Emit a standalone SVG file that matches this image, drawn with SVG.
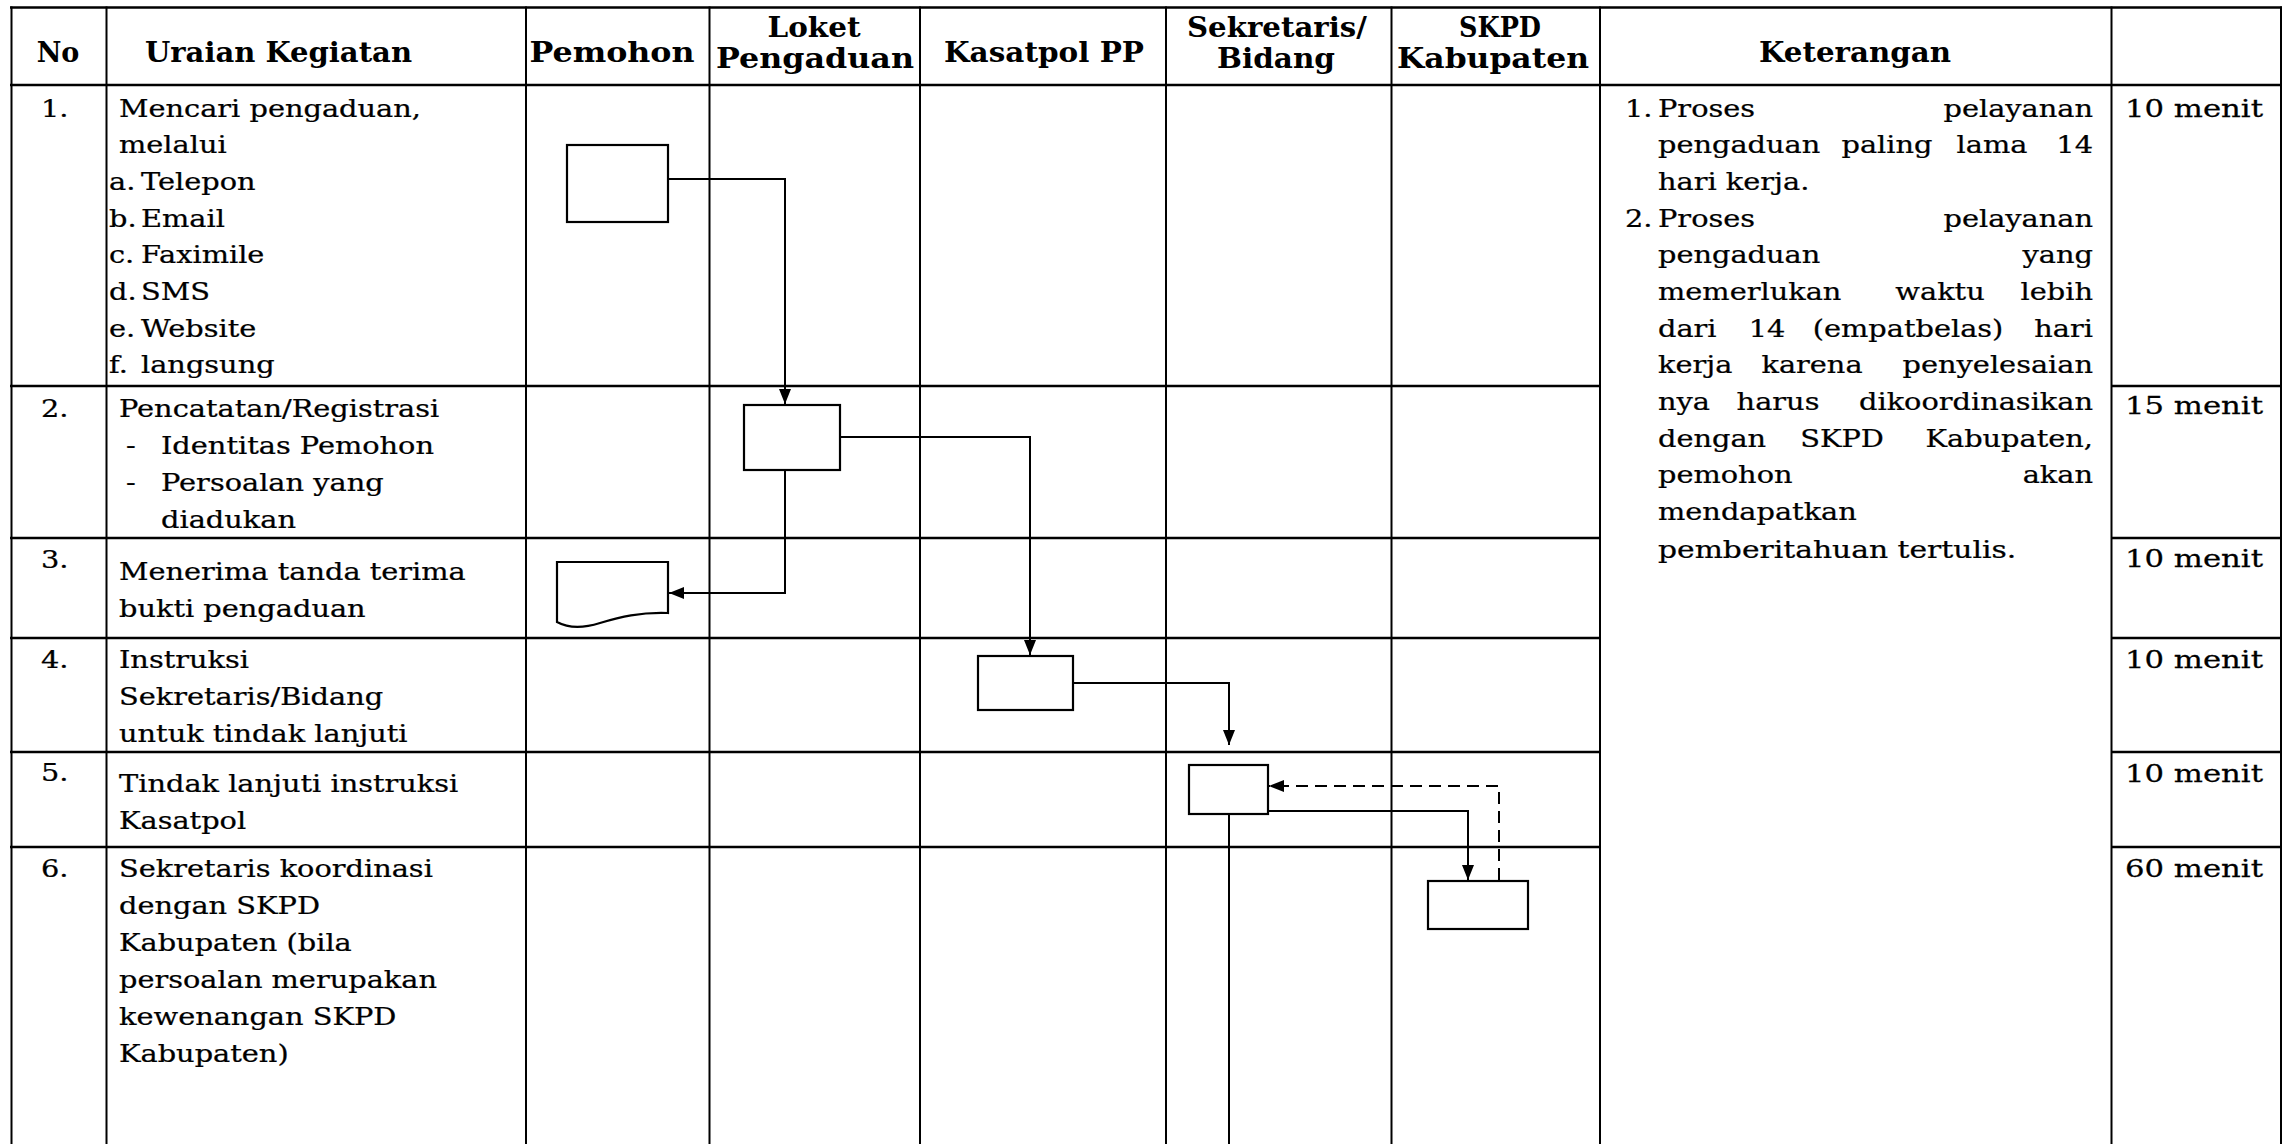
<svg xmlns="http://www.w3.org/2000/svg" width="2291" height="1144" viewBox="0 0 2291 1144">
<defs>
<style>
.h{font-family:"DejaVu Serif","Liberation Serif",serif;font-weight:bold;font-size:27px;fill:#000}
.t{font-family:"DejaVu Serif","Liberation Serif",serif;font-size:24px;fill:#000;stroke:#000;stroke-width:0.25}
.gl{stroke:#000;stroke-width:2.4}
.gv{stroke:#000;stroke-width:2}
.box{fill:#fff;stroke:#000;stroke-width:2.2}
.conn{fill:none;stroke:#000;stroke-width:2}
.dash{stroke-dasharray:12 7}
</style>
<marker id="arr" markerUnits="userSpaceOnUse" markerWidth="16" markerHeight="12" refX="15" refY="6" orient="auto">
<path d="M0,0 L15,6 L0,12 Z" fill="#000"/>
</marker>
</defs>
<rect x="0" y="0" width="2291" height="1144" fill="#fff"/>
<g id="grid">
<line class="gl" x1="10" y1="7.5" x2="2282" y2="7.5"/>
<line class="gl" x1="10" y1="85" x2="2282" y2="85"/>
<line class="gl" x1="10" y1="386" x2="1600" y2="386"/>
<line class="gl" x1="2111" y1="386" x2="2282" y2="386"/>
<line class="gl" x1="10" y1="538" x2="1600" y2="538"/>
<line class="gl" x1="2111" y1="538" x2="2282" y2="538"/>
<line class="gl" x1="10" y1="638" x2="1600" y2="638"/>
<line class="gl" x1="2111" y1="638" x2="2282" y2="638"/>
<line class="gl" x1="10" y1="752" x2="1600" y2="752"/>
<line class="gl" x1="2111" y1="752" x2="2282" y2="752"/>
<line class="gl" x1="10" y1="847" x2="1600" y2="847"/>
<line class="gl" x1="2111" y1="847" x2="2282" y2="847"/>
<line class="gv" x1="11.5" y1="6.5" x2="11.5" y2="1144"/>
<line class="gv" x1="106.5" y1="6.5" x2="106.5" y2="1144"/>
<line class="gv" x1="526" y1="6.5" x2="526" y2="1144"/>
<line class="gv" x1="709.5" y1="6.5" x2="709.5" y2="1144"/>
<line class="gv" x1="920" y1="6.5" x2="920" y2="1144"/>
<line class="gv" x1="1166" y1="6.5" x2="1166" y2="1144"/>
<line class="gv" x1="1391.5" y1="6.5" x2="1391.5" y2="1144"/>
<line class="gv" x1="1600" y1="6.5" x2="1600" y2="1144"/>
<line class="gv" x1="2111.5" y1="6.5" x2="2111.5" y2="1144"/>
<line class="gv" x1="2281" y1="6.5" x2="2281" y2="1144"/>
</g>
<g id="header">
<text class="h" x="58" y="62" text-anchor="middle">No</text>
<text class="h" x="145" y="62" textLength="267" lengthAdjust="spacingAndGlyphs">Uraian Kegiatan</text>
<text class="h" x="612" y="62" text-anchor="middle" textLength="165" lengthAdjust="spacingAndGlyphs">Pemohon</text>
<text class="h" x="814" y="37" text-anchor="middle" textLength="93" lengthAdjust="spacingAndGlyphs">Loket</text>
<text class="h" x="815" y="68" text-anchor="middle" textLength="198" lengthAdjust="spacingAndGlyphs">Pengaduan</text>
<text class="h" x="1044" y="62" text-anchor="middle" textLength="200" lengthAdjust="spacingAndGlyphs">Kasatpol PP</text>
<text class="h" x="1277" y="37" text-anchor="middle" textLength="180" lengthAdjust="spacingAndGlyphs">Sekretaris/</text>
<text class="h" x="1276" y="68" text-anchor="middle" textLength="118" lengthAdjust="spacingAndGlyphs">Bidang</text>
<text class="h" x="1500" y="37" text-anchor="middle" textLength="82" lengthAdjust="spacingAndGlyphs">SKPD</text>
<text class="h" x="1493" y="68" text-anchor="middle" textLength="192" lengthAdjust="spacingAndGlyphs">Kabupaten</text>
<text class="h" x="1855" y="62" text-anchor="middle" textLength="192" lengthAdjust="spacingAndGlyphs">Keterangan</text>
</g>
<g id="numbers" transform="translate(41,0) scale(1.2,1)">
<text class="t" x="0" y="116.7">1.</text>
<text class="t" x="0" y="417">2.</text>
<text class="t" x="0" y="568">3.</text>
<text class="t" x="0" y="668">4.</text>
<text class="t" x="0" y="781">5.</text>
<text class="t" x="0" y="877">6.</text>
</g>
<g id="uraian" transform="translate(119,0) scale(1.2,1)">
<text class="t" x="0" y="116.7">Mencari pengaduan,</text>
<text class="t" x="0" y="153.3">melalui</text>
<text class="t" x="0" y="417">Pencatatan/Registrasi</text>
<text class="t" x="0" y="580">Menerima tanda terima</text>
<text class="t" x="0" y="617">bukti pengaduan</text>
<text class="t" x="0" y="668">Instruksi</text>
<text class="t" x="0" y="705">Sekretaris/Bidang</text>
<text class="t" x="0" y="742">untuk tindak lanjuti</text>
<text class="t" x="0" y="792">Tindak lanjuti instruksi</text>
<text class="t" x="0" y="829">Kasatpol</text>
<text class="t" x="0" y="877">Sekretaris koordinasi</text>
<text class="t" x="0" y="914">dengan SKPD</text>
<text class="t" x="0" y="951">Kabupaten (bila</text>
<text class="t" x="0" y="988">persoalan merupakan</text>
<text class="t" x="0" y="1025">kewenangan SKPD</text>
<text class="t" x="0" y="1062">Kabupaten)</text>
</g>
<g id="items-letters" transform="translate(109,0) scale(1.2,1)">
<text class="t" x="0" y="190">a.</text>
<text class="t" x="0" y="226.7">b.</text>
<text class="t" x="0" y="263.3">c.</text>
<text class="t" x="0" y="300">d.</text>
<text class="t" x="0" y="336.7">e.</text>
<text class="t" x="0" y="373.3">f.</text>
</g>
<g id="items-words" transform="translate(141,0) scale(1.2,1)">
<text class="t" x="0" y="190">Telepon</text>
<text class="t" x="0" y="226.7">Email</text>
<text class="t" x="0" y="263.3">Faximile</text>
<text class="t" x="0" y="300">SMS</text>
<text class="t" x="0" y="336.7">Website</text>
<text class="t" x="0" y="373.3">langsung</text>
</g>
<g id="dashes" transform="translate(126,0) scale(1.2,1)">
<text class="t" x="0" y="454">-</text>
<text class="t" x="0" y="491">-</text>
</g>
<g id="subitems" transform="translate(161,0) scale(1.2,1)">
<text class="t" x="0" y="454">Identitas Pemohon</text>
<text class="t" x="0" y="491">Persoalan yang</text>
<text class="t" x="0" y="528">diadukan</text>
</g>
<g id="menit" transform="translate(2263,0) scale(1.28,1)">
<text class="t" x="0" y="116.7" text-anchor="end">10 menit</text>
<text class="t" x="0" y="414" text-anchor="end">15 menit</text>
<text class="t" x="0" y="567" text-anchor="end">10 menit</text>
<text class="t" x="0" y="668" text-anchor="end">10 menit</text>
<text class="t" x="0" y="782" text-anchor="end">10 menit</text>
<text class="t" x="0" y="877" text-anchor="end">60 menit</text>
</g>
<g id="keterangan">
<text class="t" transform="translate(1625,116.7) scale(1.2,1)">1.</text>
<text class="t" transform="translate(1658,116.7) scale(1.2,1)">Proses</text>
<text class="t" transform="translate(2093,116.7) scale(1.2,1)" text-anchor="end">pelayanan</text>
<text class="t" transform="translate(1658,153.3) scale(1.2,1)">pengaduan</text>
<text class="t" transform="translate(1887,153.3) scale(1.2,1)" text-anchor="middle">paling</text>
<text class="t" transform="translate(1992,153.3) scale(1.2,1)" text-anchor="middle">lama</text>
<text class="t" transform="translate(2093,153.3) scale(1.2,1)" text-anchor="end">14</text>
<text class="t" transform="translate(1658,190) scale(1.2,1)">hari kerja.</text>
<text class="t" transform="translate(1625,226.7) scale(1.2,1)">2.</text>
<text class="t" transform="translate(1658,226.7) scale(1.2,1)">Proses</text>
<text class="t" transform="translate(2093,226.7) scale(1.2,1)" text-anchor="end">pelayanan</text>
<text class="t" transform="translate(1658,263.3) scale(1.2,1)">pengaduan</text>
<text class="t" transform="translate(2093,263.3) scale(1.2,1)" text-anchor="end">yang</text>
<text class="t" transform="translate(1658,300) scale(1.2,1)">memerlukan</text>
<text class="t" transform="translate(1940,300) scale(1.2,1)" text-anchor="middle">waktu</text>
<text class="t" transform="translate(2093,300) scale(1.2,1)" text-anchor="end">lebih</text>
<text class="t" transform="translate(1658,336.7) scale(1.2,1)">dari</text>
<text class="t" transform="translate(1767,336.7) scale(1.2,1)" text-anchor="middle">14</text>
<text class="t" transform="translate(1908,336.7) scale(1.2,1)" text-anchor="middle">(empatbelas)</text>
<text class="t" transform="translate(2093,336.7) scale(1.2,1)" text-anchor="end">hari</text>
<text class="t" transform="translate(1658,373.3) scale(1.2,1)">kerja</text>
<text class="t" transform="translate(1812,373.3) scale(1.2,1)" text-anchor="middle">karena</text>
<text class="t" transform="translate(2093,373.3) scale(1.2,1)" text-anchor="end">penyelesaian</text>
<text class="t" transform="translate(1658,410) scale(1.2,1)">nya</text>
<text class="t" transform="translate(1778,410) scale(1.2,1)" text-anchor="middle">harus</text>
<text class="t" transform="translate(2093,410) scale(1.2,1)" text-anchor="end">dikoordinasikan</text>
<text class="t" transform="translate(1658,446.7) scale(1.2,1)">dengan</text>
<text class="t" transform="translate(1842,446.7) scale(1.2,1)" text-anchor="middle">SKPD</text>
<text class="t" transform="translate(2093,446.7) scale(1.2,1)" text-anchor="end">Kabupaten,</text>
<text class="t" transform="translate(1658,483.3) scale(1.2,1)">pemohon</text>
<text class="t" transform="translate(2093,483.3) scale(1.2,1)" text-anchor="end">akan</text>
<text class="t" transform="translate(1658,520) scale(1.2,1)">mendapatkan</text>
<text class="t" transform="translate(1658,558.3) scale(1.24,1)">pemberitahuan tertulis.</text>
</g>
<g id="connectors">
<path class="conn" d="M668,179 H785 V404" marker-end="url(#arr)"/>
<path class="conn" d="M840,437 H1030 V655" marker-end="url(#arr)"/>
<path class="conn" d="M785,470 V593 H669" marker-end="url(#arr)"/>
<path class="conn" d="M1073,683 H1229 V745" marker-end="url(#arr)"/>
<path class="conn dash" d="M1499,880 V786 H1269" marker-end="url(#arr)"/>
<path class="conn" d="M1268,811 H1468 V880" marker-end="url(#arr)"/>
<path class="conn" d="M1229,814 V1144"/>
</g>
<g id="node-pemohon-1"><rect class="box" x="567" y="145" width="101" height="77"/></g>
<g id="node-loket-2"><rect class="box" x="744" y="405" width="96" height="65"/></g>
<g id="node-pemohon-3"><path class="box" d="M557,562 H668 V613 C640,612 620,617 600,623 C584,628 568,628 557,622 Z"/></g>
<g id="node-kasatpol-4"><rect class="box" x="978" y="656" width="95" height="54"/></g>
<g id="node-sekretaris-5"><rect class="box" x="1189" y="765" width="79" height="49"/></g>
<g id="node-skpd-6"><rect class="box" x="1428" y="881" width="100" height="48"/></g>
</svg>
